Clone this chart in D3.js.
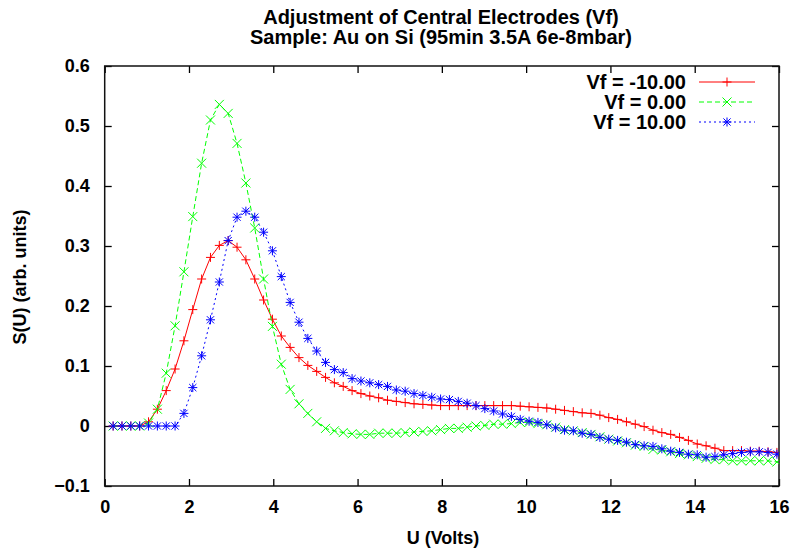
<!DOCTYPE html>
<html>
<head>
<meta charset="utf-8">
<script src="https://cdn.jsdelivr.net/npm/d3@7"></script>
<style>
  html, body { margin: 0; padding: 0; background: #fff; }
  svg { display: block; }
  text { font-family: "Liberation Sans", Arial, Helvetica, sans-serif; font-weight: bold; fill: #000; }
</style>
</head>
<body>
<svg id="chart" width="794" height="551"></svg>
<script>
// ---------------- data ----------------
const titleLines = ["Adjustment of Central Electrodes (Vf)", "Sample: Au on Si (95min 3.5A 6e-8mbar)"];
const xLabel = "U (Volts)";
const yLabel = "S(U) (arb. units)";
const xTicks = [0, 2, 4, 6, 8, 10, 12, 14, 16];
const yTicks = [-0.1, 0, 0.1, 0.2, 0.3, 0.4, 0.5, 0.6];
const seriesNames = ["Vf = -10.00", "Vf = 0.00", "Vf = 10.00"];

const U = [0.20, 0.41, 0.62, 0.83, 1.04, 1.25, 1.46, 1.67, 1.88, 2.09,
  2.30, 2.51, 2.72, 2.93, 3.14, 3.35, 3.56, 3.77, 3.98, 4.19,
  4.40, 4.61, 4.82, 5.03, 5.24, 5.45, 5.66, 5.87, 6.08, 6.29,
  6.50, 6.71, 6.92, 7.13, 7.34, 7.55, 7.76, 7.97, 8.18, 8.39,
  8.60, 8.81, 9.02, 9.23, 9.44, 9.65, 9.86, 10.07, 10.28, 10.49,
  10.70, 10.91, 11.12, 11.33, 11.54, 11.75, 11.96, 12.17, 12.38, 12.59,
  12.80, 13.01, 13.22, 13.43, 13.64, 13.85, 14.06, 14.27, 14.48, 14.69,
  14.90, 15.11, 15.32, 15.53, 15.74, 15.95];

const vfMinus10 = [0, 0, 0, 0, 0.007, 0.028, 0.059, 0.095, 0.142, 0.194,
  0.245, 0.281, 0.301, 0.309, 0.298, 0.277, 0.245, 0.210, 0.178, 0.150,
  0.131, 0.114, 0.101, 0.091, 0.081, 0.072, 0.066, 0.059, 0.054, 0.050,
  0.047, 0.043, 0.041, 0.039, 0.037, 0.036, 0.035, 0.034, 0.034, 0.034,
  0.034, 0.034, 0.034, 0.034, 0.034, 0.034, 0.033, 0.032, 0.031, 0.030,
  0.028, 0.026, 0.024, 0.022, 0.021, 0.018, 0.014, 0.011, 0.007, 0.003,
  -0.001, -0.007, -0.011, -0.014, -0.019, -0.024, -0.030, -0.033, -0.037, -0.041,
  -0.041, -0.041, -0.042, -0.042, -0.043, -0.044];

const vf0 = [0, 0, 0, 0, 0.005, 0.028, 0.088, 0.167, 0.257, 0.349,
  0.438, 0.510, 0.536, 0.521, 0.471, 0.405, 0.330, 0.245, 0.166, 0.103,
  0.061, 0.037, 0.021, 0.007, -0.004, -0.008, -0.011, -0.013, -0.014, -0.014,
  -0.012, -0.012, -0.012, -0.011, -0.010, -0.009, -0.008, -0.006, -0.004, -0.004,
  -0.002, 0.000, 0.001, 0.003, 0.003, 0.004, 0.006, 0.006, 0.004, 0.002,
  -0.002, -0.006, -0.008, -0.011, -0.014, -0.018, -0.022, -0.025, -0.028, -0.032,
  -0.034, -0.039, -0.040, -0.043, -0.046, -0.048, -0.051, -0.054, -0.056, -0.056,
  -0.058, -0.058, -0.058, -0.058, -0.058, -0.060];

const vfPlus10 = [0, 0, 0, 0, 0, 0, 0, 0, 0.021, 0.064,
  0.117, 0.177, 0.240, 0.309, 0.348, 0.358, 0.348, 0.323, 0.292, 0.249,
  0.206, 0.173, 0.146, 0.125, 0.106, 0.094, 0.089, 0.079, 0.075, 0.072,
  0.069, 0.066, 0.060, 0.058, 0.054, 0.051, 0.048, 0.045, 0.044, 0.041,
  0.038, 0.034, 0.029, 0.025, 0.020, 0.016, 0.011, 0.008, 0.006, 0.002,
  -0.003, -0.007, -0.008, -0.012, -0.014, -0.019, -0.022, -0.024, -0.027, -0.031,
  -0.033, -0.034, -0.038, -0.042, -0.044, -0.047, -0.048, -0.052, -0.051, -0.048,
  -0.046, -0.044, -0.043, -0.043, -0.044, -0.047];

// ---------------- layout ----------------
const svg = d3.select("#chart");
const L = 104.7, R = 779, T = 66, B = 486;
const x = d3.scaleLinear().domain([0, 16]).range([L, R]);
const y = d3.scaleLinear().domain([-0.1, 0.6]).range([B, T]);

const styles = [
  { name: seriesNames[0], values: vfMinus10, color: "#ff0000", dash: null, marker: "plus" },
  { name: seriesNames[1], values: vf0, color: "#00ff00", dash: "5,3", marker: "cross" },
  { name: seriesNames[2], values: vfPlus10, color: "#0000ff", dash: "2,3", marker: "star" }
];

const h = 4.5;
const markerPath = {
  plus: `M${-h},0H${h}M0,${-h}V${h}`,
  cross: `M${-h},${-h}L${h},${h}M${-h},${h}L${h},${-h}`,
  star: `M${-h},0H${h}M0,${-h}V${h}M${-h*0.8},${-h*0.8}L${h*0.8},${h*0.8}M${-h*0.8},${h*0.8}L${h*0.8},${-h*0.8}`
};

// Axes (ticks inward, mirrored)
const fmtY = d => d === 0 ? "0" : d3.format(".1f")(d);
const gx = svg.append("g").attr("transform", `translate(0,${B})`)
  .call(d3.axisBottom(x).tickValues(xTicks).tickSize(-7).tickPadding(14).tickFormat(d3.format("d")));
const gxt = svg.append("g").attr("transform", `translate(0,${T})`)
  .call(d3.axisTop(x).tickValues(xTicks).tickSize(-7).tickFormat(""));
const gy = svg.append("g").attr("transform", `translate(${L},0)`)
  .call(d3.axisLeft(y).tickValues(yTicks).tickSize(-7).tickPadding(15).tickFormat(fmtY));
const gyr = svg.append("g").attr("transform", `translate(${R},0)`)
  .call(d3.axisRight(y).tickValues(yTicks).tickSize(-7).tickFormat(""));
[gx, gxt, gy, gyr].forEach(g => {
  g.select(".domain").remove();
  g.selectAll(".tick line").attr("stroke", "#000").attr("stroke-width", 1.3);
  g.selectAll(".tick text").style("font-size", "18px").style("font-family", "'Liberation Sans', Arial, sans-serif").style("font-weight", "bold").attr("fill", "#000");
});
gx.selectAll(".tick text").attr("dy", "0.71em");

// frame
svg.append("rect").attr("x", L).attr("y", T).attr("width", R - L).attr("height", B - T)
  .attr("fill", "none").attr("stroke", "#111").attr("stroke-width", 1.5);

// series
const clip = svg.append("defs").append("clipPath").attr("id", "clip")
  .append("rect").attr("x", L).attr("y", T).attr("width", R - L).attr("height", B - T);
const plot = svg.append("g").attr("clip-path", "url(#clip)");
const line = d3.line().x((d, i) => x(U[i])).y(d => y(d));

styles.forEach(s => {
  plot.append("path").datum(s.values).attr("d", line)
    .attr("fill", "none").attr("stroke", s.color).attr("stroke-width", 1)
    .attr("stroke-dasharray", s.dash);
  plot.append("g").selectAll("path").data(s.values).join("path")
    .attr("transform", (d, i) => `translate(${x(U[i])},${y(d)})`)
    .attr("d", markerPath[s.marker])
    .attr("fill", "none").attr("stroke", s.color).attr("stroke-width", 1);
});

// legend
const legRowY = [82, 102, 122];
styles.forEach((s, k) => {
  const yy = legRowY[k];
  svg.append("text").attr("x", 686).attr("y", yy).attr("dy", "0.36em")
    .attr("text-anchor", "end").style("font-size", "20px").text(s.name);
  svg.append("line").attr("x1", 699).attr("x2", 755).attr("y1", yy).attr("y2", yy)
    .attr("stroke", s.color).attr("stroke-width", 1).attr("stroke-dasharray", s.dash);
  svg.append("path").attr("transform", `translate(727,${yy})`).attr("d", markerPath[s.marker])
    .attr("fill", "none").attr("stroke", s.color).attr("stroke-width", 1);
});

// titles
svg.append("text").attr("x", 441).attr("y", 17).attr("dy", "0.36em").attr("text-anchor", "middle")
  .style("font-size", "20px").text(titleLines[0]);
svg.append("text").attr("x", 441).attr("y", 37).attr("dy", "0.36em").attr("text-anchor", "middle")
  .style("font-size", "20px").text(titleLines[1]);
svg.append("text").attr("x", 443).attr("y", 538).attr("dy", "0.36em").attr("text-anchor", "middle")
  .style("font-size", "18px").text(xLabel);
svg.append("text").attr("transform", `translate(20,277) rotate(-90)`).attr("dy", "0.36em")
  .attr("text-anchor", "middle").style("font-size", "18px").text(yLabel);
</script>
</body>
</html>
